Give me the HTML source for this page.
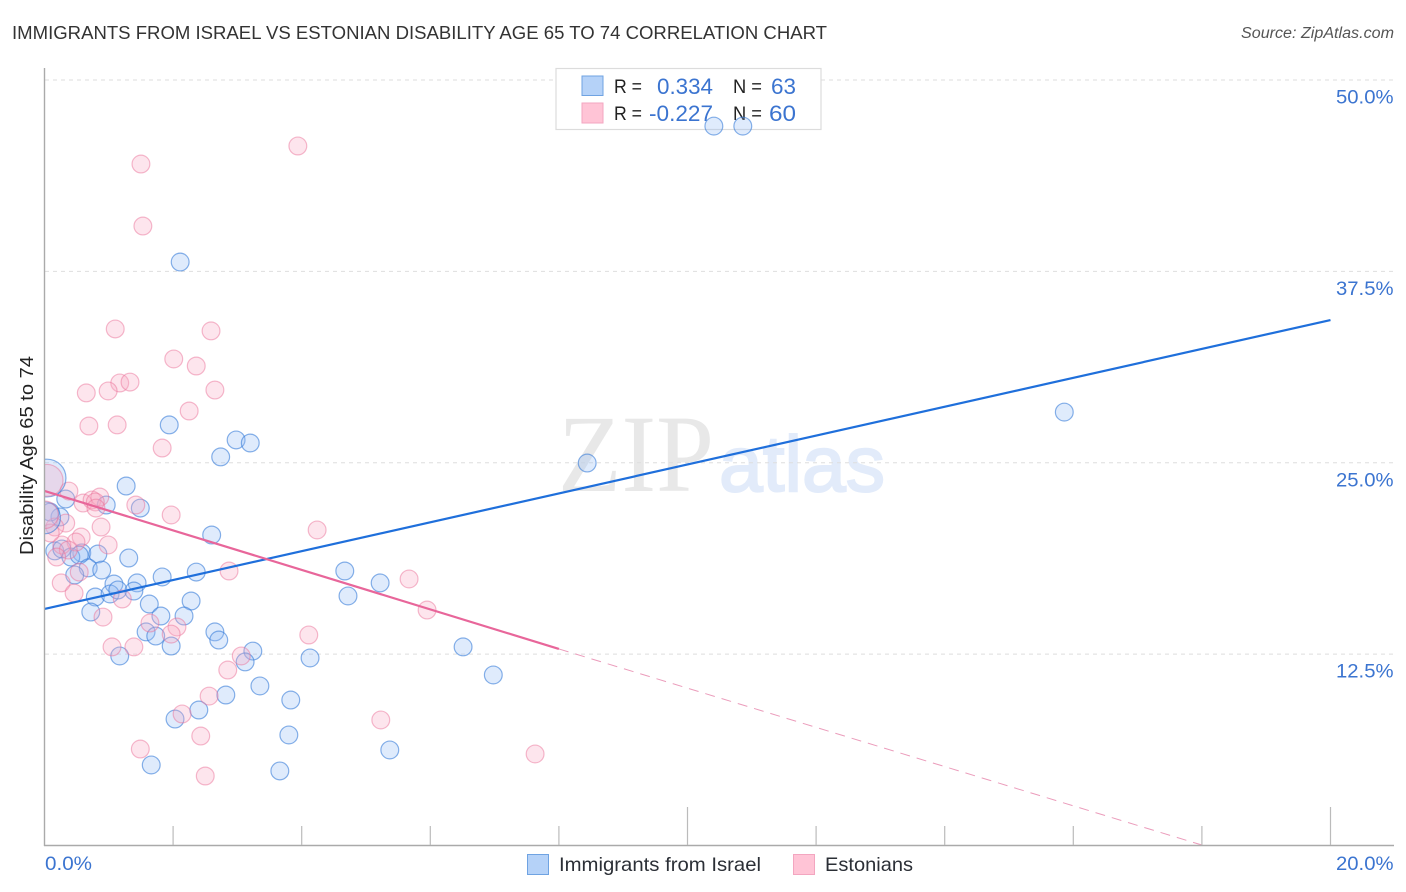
<!DOCTYPE html>
<html lang="en">
<head>
<meta charset="utf-8">
<title>Immigrants from Israel vs Estonian Disability Age 65 to 74 Correlation Chart</title>
<style>
html,body{margin:0;padding:0;background:#fff;}
svg{display:block;font-family:"Liberation Sans",sans-serif;}
</style>
</head>
<body>
<svg id="chart" xmlns="http://www.w3.org/2000/svg" width="1406" height="892" viewBox="0 0 1406 892">
  <rect x="0" y="0" width="1406" height="892" fill="#fff"/>
  <defs>
    <clipPath id="plot-clip"><rect x="45" y="60" width="1349" height="785"/></clipPath>
  </defs>
  <text x="12" y="39" font-size="18.5" fill="#333" textLength="815" lengthAdjust="spacingAndGlyphs">IMMIGRANTS FROM ISRAEL VS ESTONIAN DISABILITY AGE 65 TO 74 CORRELATION CHART</text>
  <text x="1241" y="38" font-size="15.5" font-style="italic" fill="#555" textLength="153" lengthAdjust="spacingAndGlyphs">Source: ZipAtlas.com</text>
  <g>
    <text x="558" y="491" font-family="'Liberation Serif',serif" font-size="110" fill="#e8e8e8" textLength="156" lengthAdjust="spacingAndGlyphs">ZIP</text>
    <text x="719" y="491" font-size="79" fill="#e2ebfa" stroke="#e2ebfa" stroke-width="2" textLength="166" lengthAdjust="spacingAndGlyphs">atlas</text>
  </g>
  <g id="grid"></g>
  <g>
    <rect x="556" y="68.5" width="265" height="61" fill="#fff" stroke="#dcdcdc" stroke-width="1.2"/>
    <rect x="582" y="76" width="21" height="19.5" fill="#b5d2f8" stroke="#6fa3e2" stroke-width="1"/>
    <rect x="582" y="103" width="21" height="20" fill="#ffc4d6" stroke="#f3a6c0" stroke-width="1"/>
    <text x="614" y="93" font-size="19" fill="#222" textLength="28" lengthAdjust="spacingAndGlyphs">R =</text>
    <text x="657" y="94" font-size="22" fill="#3b74d0" textLength="56" lengthAdjust="spacingAndGlyphs">0.334</text>
    <text x="733" y="93" font-size="19" fill="#222" textLength="29" lengthAdjust="spacingAndGlyphs">N =</text>
    <text x="771" y="94" font-size="22" fill="#3b74d0" textLength="25" lengthAdjust="spacingAndGlyphs">63</text>
    <text x="614" y="120" font-size="19" fill="#222" textLength="28" lengthAdjust="spacingAndGlyphs">R =</text>
    <text x="649" y="121" font-size="22" fill="#3b74d0" textLength="64" lengthAdjust="spacingAndGlyphs">-0.227</text>
    <text x="733" y="120" font-size="19" fill="#222" textLength="29" lengthAdjust="spacingAndGlyphs">N =</text>
    <text x="769" y="121" font-size="22" fill="#3b74d0" textLength="27" lengthAdjust="spacingAndGlyphs">60</text>
  </g>
  <g id="marks" clip-path="url(#plot-clip)"></g>
  <g id="lines"></g>
  <g id="axes"></g>
  <text transform="translate(33,555) rotate(-90)" font-size="18.5" fill="#222" textLength="199" lengthAdjust="spacingAndGlyphs">Disability Age 65 to 74</text>
  <g>
    <rect x="527.5" y="854.5" width="21" height="20" fill="#b5d2f8" stroke="#6fa3e2" stroke-width="1"/>
    <text x="559" y="871" font-size="19.5" fill="#2b2f36" textLength="202" lengthAdjust="spacingAndGlyphs">Immigrants from Israel</text>
    <rect x="793.5" y="854.5" width="21" height="20" fill="#ffc4d6" stroke="#f3a6c0" stroke-width="1"/>
    <text x="825" y="871" font-size="19.5" fill="#2b2f36" textLength="88" lengthAdjust="spacingAndGlyphs">Estonians</text>
  </g>
</svg>
<script>
const yTickValues = [50, 37.5, 25, 12.5];
const yTickLabels = ["50.0%", "37.5%", "25.0%", "12.5%"];
const xMinorTicks = [0, 2, 4, 6, 8, 10, 12, 14, 16, 18, 20];
const xMajorTicks = [10, 20];
const xEndLabels = ["0.0%", "20.0%"];

const israelX = [10.41,10.86,2.11,15.86,8.44,1.94,2.98,3.20,2.74,1.27,0.33,0.96,1.49,0.24,2.60,0.09,0.16,0.27,0.58,0.41,0.54,0.83,1.31,0.68,0.89,0.47,1.08,1.44,1.83,2.36,4.67,5.22,4.72,0.79,1.02,1.14,1.39,1.63,2.28,0.72,1.81,2.17,1.58,1.73,1.97,2.65,2.71,3.24,3.12,1.17,4.13,6.51,6.98,3.35,2.82,2.40,3.83,2.03,3.80,5.37,1.66,3.66];
const israelY = [46.99,46.99,38.11,28.31,24.98,27.47,26.49,26.29,25.38,23.48,22.63,22.24,22.04,21.46,20.28,21.78,19.24,19.37,19.11,18.84,18.97,19.04,18.78,18.13,17.99,17.67,17.08,17.15,17.54,17.86,17.93,17.15,16.30,16.23,16.43,16.69,16.62,15.77,15.97,15.25,14.99,14.99,13.95,13.68,13.03,13.95,13.42,12.70,11.99,12.38,12.25,12.97,11.14,10.42,9.83,8.85,9.50,8.26,7.22,6.24,5.26,4.87];
const estoniansX = [3.94,1.50,1.53,1.10,2.59,2.01,2.36,1.17,1.33,0.65,0.99,2.65,2.25,0.69,1.13,1.83,0.38,0.60,0.74,0.86,0.79,0.80,1.42,1.97,4.24,0.33,0.16,0.88,0.57,0.49,0.99,0.27,0.37,0.19,0.54,2.87,5.67,0.26,0.46,1.21,5.95,0.91,1.64,2.06,1.97,4.11,1.05,1.39,3.06,2.85,2.56,2.14,5.23,2.43,1.49,7.63,2.50,0.09];
const estoniansY = [45.69,44.51,40.46,33.74,33.61,31.78,31.32,30.21,30.27,29.56,29.69,29.75,28.38,27.40,27.47,25.96,23.15,22.37,22.57,22.76,22.44,22.04,22.24,21.59,20.61,21.06,20.80,20.80,20.15,19.82,19.63,19.63,19.30,18.84,17.86,17.93,17.41,17.15,16.49,16.10,15.38,14.92,14.53,14.27,13.81,13.75,12.97,12.97,12.38,11.46,9.76,8.59,8.20,7.15,6.30,5.98,4.54,20.41];

const israelLargeX = [0.04, 0];
const israelLargeY = [24.0, 21.4];
const israelLargeWeight = [4.5, 3.2];
const estoniansLargeX = [0.04, 0];
const estoniansLargeY = [23.85, 21.6];
const estoniansLargeWeight = [3.2, 2.4];

const israelTrendX = [0, 20];
const israelTrendY = [15.45, 34.32];
const estoniansTrendX = [0, 8];
const estoniansTrendY = [23.16, 12.84];
const estoniansExtrapX = [8, 18];
const estoniansExtrapY = [12.84, 0.03];

const SVGNS = "http://www.w3.org/2000/svg";
function xScale(v) { return 44.5 + v * 64.3; }
function yScale(v) { return 845.5 - v * 15.31; }
function make(tag, attrs, parent) {
  const el = document.createElementNS(SVGNS, tag);
  for (const k in attrs) el.setAttribute(k, attrs[k]);
  parent.appendChild(el);
  return el;
}

const gridG = document.getElementById("grid");
yTickValues.forEach(function (v) {
  const gl = make("line", {x1: 45, x2: 1394, y1: yScale(v), y2: yScale(v), stroke: "#dedede", "stroke-width": 1, "stroke-dasharray": "4 4"}, gridG);
  
  
});

const marksG = document.getElementById("marks");
function drawPoints(xs, ys, fill, stroke, pointName) {
  xs.forEach(function (x, i) {
    const c = make("circle", {cx: xScale(x), cy: yScale(ys[i]), r: 8.9, fill: fill, stroke: stroke, "stroke-width": 1.2}, marksG);
    
    
  });
}
function drawLarge(xs, ys, ws, fill, stroke, pointName) {
  xs.forEach(function (x, i) {
    const c = make("circle", {cx: xScale(x), cy: yScale(ys[i]), r: 8.9 * Math.sqrt(ws[i]), fill: fill, stroke: stroke, "stroke-width": 1.2}, marksG);
    
    
  });
}
const blueFill = "rgba(150,190,245,0.3)";
const blueStroke = "rgba(50,120,215,0.58)";
const pinkFill = "rgba(250,170,195,0.3)";
const pinkStroke = "rgba(235,110,150,0.48)";
drawPoints(israelX, israelY, blueFill, blueStroke, 'israel-point');
drawPoints(estoniansX, estoniansY, pinkFill, pinkStroke, 'estonians-point');
drawLarge(israelLargeX, israelLargeY, israelLargeWeight, blueFill, blueStroke, 'israel-large-point');
drawLarge(estoniansLargeX, estoniansLargeY, estoniansLargeWeight, pinkFill, pinkStroke, 'estonians-large-point');

const linesG = document.getElementById("lines");
function drawLine(xs, ys, stroke, width, dash, lineName) {
  const attrs = {x1: xScale(xs[0]), y1: yScale(ys[0]), x2: xScale(xs[1]), y2: yScale(ys[1]), stroke: stroke, "stroke-width": width};
  if (dash) attrs["stroke-dasharray"] = dash;
  const l = make("line", attrs, linesG);
  
  
}
drawLine(israelTrendX, israelTrendY, "#1f6fdb", 2.2, null, 'israel-trend-line');
drawLine(estoniansTrendX, estoniansTrendY, "#e8669a", 2.2, null, 'estonians-trend-line');
drawLine(estoniansExtrapX, estoniansExtrapY, "#eb9cbb", 1, "10 7", 'estonians-trend-extrapolation');

const axesG = document.getElementById("axes");
const yAxisLine = make("line", {x1: 44.5, x2: 44.5, y1: 68, y2: 846, stroke: "#aaa", "stroke-width": 1.4}, axesG);


const xAxisLine = make("line", {x1: 44, x2: 1394, y1: 845.5, y2: 845.5, stroke: "#aaa", "stroke-width": 1.4}, axesG);


xMinorTicks.forEach(function (v) {
  if (v === 0) return;
  const top = xMajorTicks.indexOf(v) >= 0 ? 807 : 826;
  const t = make("line", {x1: xScale(v), x2: xScale(v), y1: top, y2: 845, stroke: "#bbb", "stroke-width": 1.2}, axesG);
  
  
});
yTickValues.forEach(function (v, i) {
  const t = make("text", {x: 1393.5, y: yScale(v) + 23.5, "font-size": 19.5, fill: "#3b74d0", "text-anchor": "end", textLength: 57.5, lengthAdjust: "spacingAndGlyphs"}, axesG);
  t.textContent = yTickLabels[i];
  
  
});
const xStart = make("text", {x: 45, y: 870, "font-size": 19.5, fill: "#3b74d0", textLength: 47, lengthAdjust: "spacingAndGlyphs"}, axesG);
xStart.textContent = xEndLabels[0];


const xEnd = make("text", {x: 1393.5, y: 870, "font-size": 19.5, fill: "#3b74d0", "text-anchor": "end", textLength: 57.5, lengthAdjust: "spacingAndGlyphs"}, axesG);
xEnd.textContent = xEndLabels[1];


</script>
</body>
</html>
